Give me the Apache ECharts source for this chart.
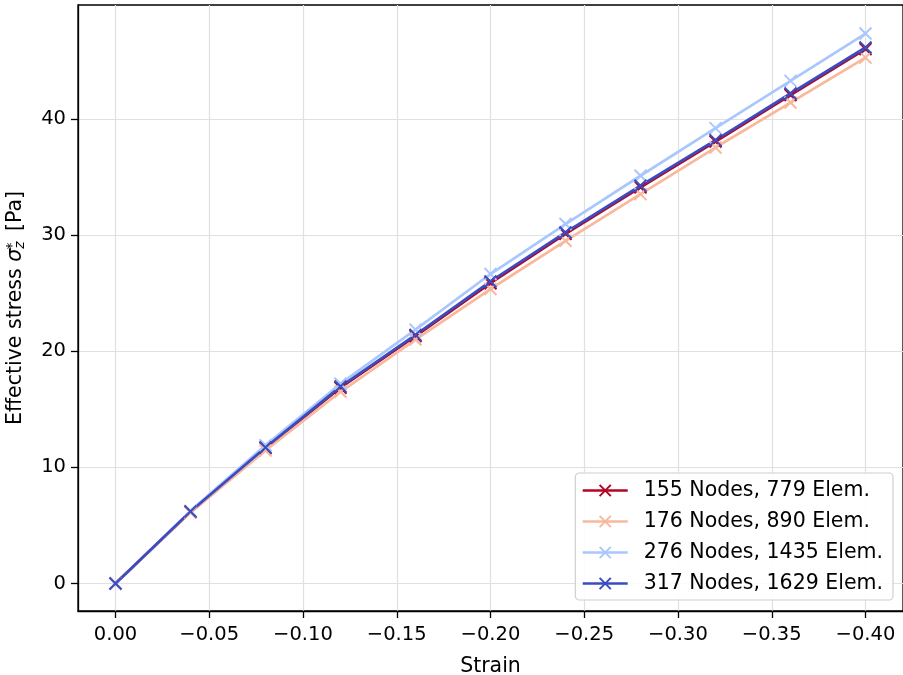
<!DOCTYPE html>
<html>
<head>
<meta charset="utf-8">
<script src="https://cdn.jsdelivr.net/npm/echarts@6/dist/echarts.min.js"></script>
<style>
  html, body { margin: 0; padding: 0; background: #fff; }
  #main { width: 903px; height: 675px; }
</style>
</head>
<body>
<div id="main"></div>
<script>
// strain steps (compression, negative)
var strain = [0, -0.04, -0.08, -0.12, -0.16, -0.20, -0.24, -0.28, -0.32, -0.36, -0.40];

// effective stress per mesh
var mesh155 = [0, 6.15, 11.65, 16.85, 21.3, 25.85, 30.1, 34.1, 38.05, 42.05, 46.0];
var mesh176 = [0, 6.1, 11.45, 16.5, 21.0, 25.35, 29.5, 33.52, 37.53, 41.4, 45.27];
var mesh276 = [0, 6.25, 11.9, 17.2, 21.85, 26.64, 30.94, 35.1, 39.2, 43.27, 47.34];
var mesh317 = [0, 6.2, 11.7, 16.95, 21.4, 26.0, 30.22, 34.24, 38.17, 42.18, 46.14];

var names = ['155 Nodes, 779 Elem.', '176 Nodes, 890 Elem.', '276 Nodes, 1435 Elem.', '317 Nodes, 1629 Elem.'];
var colors = ['#b40426', '#f7b89c', '#aac7fd', '#3b4cc0'];

var xTicks = [0, -0.05, -0.10, -0.15, -0.20, -0.25, -0.30, -0.35, -0.40];
var yTicks = [0, 10, 20, 30, 40];

var font = 'DejaVu Sans';

function pairs(ys) {
  return strain.map(function (x, i) { return [x, ys[i]]; });
}

var cross = 'path://M0,0L10,10M10,0L0,10';

var series = [mesh155, mesh176, mesh276, mesh317].map(function (d, i) {
  return {
    name: names[i],
    type: 'line',
    data: pairs(d),
    symbol: cross,
    symbolSize: 12,
    showAllSymbol: true,
    lineStyle: { color: colors[i], width: 2.7 },
    itemStyle: { color: colors[i], borderColor: colors[i], borderWidth: 2 },
    emphasis: { disabled: true },
    animation: false
  };
});

var chart = echarts.init(document.getElementById('main'));
chart.setOption({
  animation: false,
  grid: {
    left: 78, right: 0, top: 5, bottom: 64,
    outerBoundsMode: 'none',
    show: true, borderColor: '#000', borderWidth: 1.3, backgroundColor: 'transparent'
  },
  legend: {
    orient: 'vertical',
    right: 10,
    bottom: 75,
    itemWidth: 45,
    itemHeight: 14,
    itemGap: 10,
    padding: [7, 10, 6, 6],
    backgroundColor: 'rgba(255,255,255,0.85)',
    borderColor: '#d0d0d0',
    borderWidth: 1.2,
    borderRadius: 4,
    lineStyle: { width: 2.7 },
    textStyle: { fontFamily: font, fontSize: 20.5, color: '#000', lineHeight: 20, padding: [0, 0, 0, 11] },
    data: names
  },
  xAxis: {
    type: 'value',
    inverse: true,
    min: -0.42,
    max: 0.02,
    name: 'Strain',
    nameLocation: 'middle',
    nameGap: 45,
    nameTextStyle: { fontFamily: font, fontSize: 20.5, color: '#000' },
    axisLine: { show: true, onZero: false, lineStyle: { color: '#000', width: 1.3 } },
    axisTick: { show: true, inside: false, length: 7, lineStyle: { color: '#000', width: 1.3 }, customValues: xTicks },
    axisLabel: {
      fontFamily: font, fontSize: 19.5, color: '#000', margin: 14,
      customValues: xTicks,
      formatter: function (v) {
        var s = Math.abs(v).toFixed(2);
        return v < -1e-9 ? '\u2212' + s : s;
      }
    },
    splitLine: { show: true, lineStyle: { color: '#e0e0e0', width: 1.2 } }
  },
  yAxis: {
    type: 'value',
    min: -2.37,
    max: 49.8,
    name: 'Effective stress {i|σ}{sub|z}{sup|*} [Pa]',
    nameLocation: 'middle',
    nameGap: 51,
    nameRotate: 90,
    nameTextStyle: {
      fontFamily: font, fontSize: 20.5, color: '#000',
      rich: {
        i: { fontFamily: font, fontSize: 20.5, fontStyle: 'italic', color: '#000' },
        sub: { fontFamily: font, fontSize: 14, fontStyle: 'italic', color: '#000', verticalAlign: 'bottom', padding: [8, 0, 0, 0] },
        sup: { fontFamily: font, fontSize: 14, color: '#000', verticalAlign: 'top', padding: [0, 5, 8, -8] }
      }
    },
    axisLine: { show: true, onZero: false, lineStyle: { color: '#000', width: 1.3 } },
    axisTick: { show: true, inside: false, length: 7, lineStyle: { color: '#000', width: 1.3 }, customValues: yTicks },
    axisLabel: { fontFamily: font, fontSize: 19.5, color: '#000', margin: 12, customValues: yTicks },
    splitLine: { show: true, lineStyle: { color: '#e0e0e0', width: 1.2 } }
  },
  series: series
});
</script>
</body>
</html>
